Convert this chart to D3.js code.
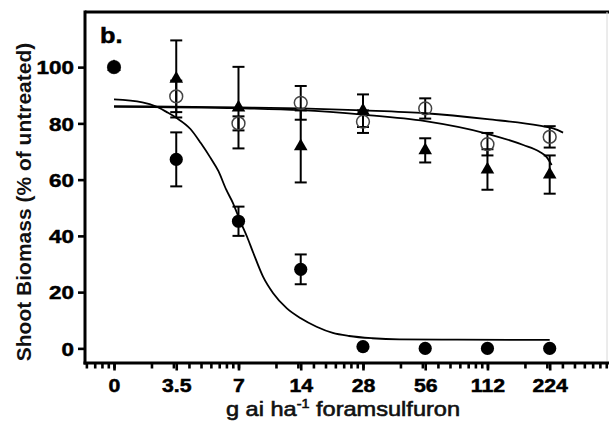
<!DOCTYPE html>
<html>
<head>
<meta charset="utf-8">
<script src="https://cdn.jsdelivr.net/npm/d3@7/dist/d3.min.js"></script>
<style>
  html, body { margin: 0; padding: 0; background: #fff; }
  svg { display: block; }
</style>
</head>
<body>
<div id="chart"></div>
<script>
// dose categories and tick labels
const doses = [0, 3.5, 7, 14, 28, 56, 112, 224];
const doseLabels = ["0", "3.5", "7", "14", "28", "56", "112", "224"];
const yTicks = [0, 20, 40, 60, 80, 100];

// filled circles
const filledMean = [100, 67.2, 45.2, 28.1, 0.6, 0, 0, 0];
const filledErr = [1, 9.6, 5.2, 5.3, 0, 0, 0, 0];
// open circles
const openMean = [100, 89.6, 80, 87.3, 80.6, 85.3, 72.6, 75.2];
const openErr = [1, 5.6, 2.5, 6, 4, 3.6, 4, 3.8];
// triangles
const triMean = [100, 95.8, 85.6, 71.8, 84.5, 70.4, 63.6, 61.8];
const triErr = [1, 13.7, 14.5, 12.8, 5.8, 4.3, 7.2, 6.8];

// fitted curves (dose, % of untreated)
const filledFitDose = [1.75, 2.4, 2.8, 3.15, 3.5, 4.1, 4.6, 5.1, 5.6, 6.1, 6.6, 7.1, 7.7, 8.25, 9.2, 10.3, 12, 14, 16.7, 20, 24, 31, 42, 80, 224];
const filledFitVal = [88.5, 87.5, 86, 84, 82, 78, 73, 68, 63, 56.5, 51.5, 45.6, 39.7, 34, 25.5, 19.6, 14.2, 10.7, 7.7, 5.5, 4.4, 3.6, 3.2, 3.1, 3.0];
const openFitDose = [1.75, 7, 14, 28, 56, 112, 200, 233, 260];
const openFitVal = [86.1, 85.7, 85.3, 84.6, 83.6, 81.5, 79.2, 78.2, 76.7];
const triFitDose = [1.75, 7, 14, 28, 56, 112, 167, 200, 216, 229];
const triFitVal = [85.9, 85.4, 84.7, 83.1, 80.8, 76.3, 72.3, 69.9, 68.1, 65.2];

const svgWidth = 610, svgHeight = 432;
const margin = { top: 12, right: 3, bottom: 69, left: 85 };
const width = svgWidth - margin.left - margin.right;
const height = svgHeight - margin.top - margin.bottom;
const stretch = 1.15; // the original lettering is drawn wide
const font = "'Liberation Sans', Arial, sans-serif";

// the axis is a log10 scale where one decade spans two dose doublings, 0 sits at 1.75
const zeroDose = 1.75;
const toU = d => Math.pow(10, Math.log2((d === 0 ? zeroDose : d) / zeroDose) / 2);

const svg = d3.select("#chart").append("svg")
    .attr("width", svgWidth)
    .attr("height", svgHeight);
svg.append("rect").attr("width", svgWidth).attr("height", svgHeight).attr("fill", "#fff");

const g = svg.append("g")
    .attr("transform", "translate(" + margin.left + "," + margin.top + ")");

const x = d3.scaleLog().domain([toU(1.267), toU(424)]).range([0, width]);
const y = d3.scaleLinear().domain([-5.2, 119.6]).range([height, 0]);
const px = d => x(toU(d));

// frame: top black, right faint
g.append("line").attr("x1", 0).attr("x2", width + 2).attr("y1", 0).attr("y2", 0)
    .attr("stroke", "#000").attr("stroke-width", 3);
g.append("line").attr("x1", width).attr("x2", width).attr("y1", 0).attr("y2", height)
    .attr("stroke", "#d8d8d8").attr("stroke-width", 1);

// minor x ticks
const minor = g.append("g")
    .attr("transform", "translate(0," + height + ")")
    .call(d3.axisBottom(x).tickValues(x.ticks()).tickSize(5.5).tickFormat(""));
minor.select(".domain").remove();
minor.selectAll("line").attr("stroke", "#000").attr("stroke-width", 2.6);

// major x ticks + labels
const xAxis = g.append("g")
    .attr("transform", "translate(0," + height + ")")
    .call(d3.axisBottom(x)
        .tickValues(doses.map(toU))
        .tickSize(7.5)
        .tickFormat((d, i) => doseLabels[i]));
xAxis.select(".domain").attr("stroke", "#000").attr("stroke-width", 3)
    .attr("d", "M-1.5,0H" + (width + 2));
xAxis.selectAll(".tick line").attr("stroke", "#000").attr("stroke-width", 2.6);
xAxis.selectAll(".tick text")
    .attr("y", 29.5).attr("dy", 0)
    .attr("transform", "scale(" + stretch + ",1)")
    .style("font-family", font)
    .style("font-weight", "bold")
    .style("font-size", "18.5px")
    .attr("fill", "#000")
    .attr("stroke", "#000")
    .attr("stroke-width", 0.5);

// y axis
const yAxis = g.append("g")
    .call(d3.axisLeft(y).tickValues(yTicks).tickSize(7).tickFormat(d3.format("d")));
yAxis.select(".domain").attr("stroke", "#000").attr("stroke-width", 3)
    .attr("d", "M0,-1.5V" + (height + 1.5));
yAxis.selectAll(".tick line").attr("stroke", "#000").attr("stroke-width", 2.6);
yAxis.selectAll(".tick text")
    .attr("x", 0).attr("dy", "0.36em")
    .attr("transform", "translate(-11,0) scale(1.18,1)")
    .style("font-family", font)
    .style("font-weight", "bold")
    .style("font-size", "19px")
    .attr("fill", "#000")
    .attr("stroke", "#000")
    .attr("stroke-width", 0.5);

// fitted curves
const line = d3.line()
    .x(d => px(d[0]))
    .y(d => y(d[1]))
    .curve(d3.curveMonotoneX);
const fits = [
    d3.zip(filledFitDose, filledFitVal),
    d3.zip(openFitDose, openFitVal),
    d3.zip(triFitDose, triFitVal)
];
g.selectAll(".fit").data(fits).enter().append("path")
    .attr("class", "fit")
    .attr("d", line)
    .attr("fill", "none")
    .attr("stroke", "#000")
    .attr("stroke-width", 1.8);

// error bars
const capW = 6;
function errorBars(mean, err) {
    const data = doses.map((d, i) => ({ d: d, m: mean[i], e: err[i] })).filter(p => p.e > 0);
    const eb = g.append("g").attr("stroke", "#000").attr("stroke-width", 2);
    eb.selectAll(".v").data(data).enter().append("line")
        .attr("x1", p => px(p.d)).attr("x2", p => px(p.d))
        .attr("y1", p => y(p.m - p.e)).attr("y2", p => y(p.m + p.e));
    eb.selectAll(".hi").data(data).enter().append("line")
        .attr("x1", p => px(p.d) - capW).attr("x2", p => px(p.d) + capW)
        .attr("y1", p => y(p.m + p.e)).attr("y2", p => y(p.m + p.e));
    eb.selectAll(".lo").data(data).enter().append("line")
        .attr("x1", p => px(p.d) - capW).attr("x2", p => px(p.d) + capW)
        .attr("y1", p => y(p.m - p.e)).attr("y2", p => y(p.m - p.e));
}
errorBars(triMean, triErr);
errorBars(openMean, openErr);
errorBars(filledMean, filledErr);

// markers
g.selectAll(".open").data(doses).enter().append("circle")
    .attr("cx", d => px(d))
    .attr("cy", (d, i) => y(openMean[i]))
    .attr("r", 6.4)
    .attr("fill", "none")
    .attr("stroke", "#444")
    .attr("stroke-width", 1.5);
g.selectAll(".tri").data(doses).enter().append("path")
    .attr("transform", (d, i) => "translate(" + px(d) + "," + y(triMean[i]) + ")")
    .attr("d", d3.symbol(d3.symbolTriangle, 80))
    .attr("fill", "#000");
g.selectAll(".filled").data(doses).enter().append("circle")
    .attr("cx", d => px(d))
    .attr("cy", (d, i) => y(filledMean[i]))
    .attr("r", 6.6)
    .attr("fill", "#000");

// panel letter
svg.append("text")
    .attr("transform", "translate(100,43) scale(" + stretch + ",1)")
    .style("font-family", font)
    .style("font-weight", "bold")
    .style("font-size", "22px")
    .attr("stroke", "#000")
    .attr("stroke-width", 0.5)
    .text("b.");

// axis titles
svg.append("text")
    .attr("transform", "translate(30.5,202) rotate(-90)")
    .attr("text-anchor", "middle")
    .style("font-family", font)
    .style("font-weight", "bold")
    .style("font-size", "21px")
    .attr("fill", "#111")
    .text("Shoot Biomass (% of untreated)");

const xt = svg.append("text")
    .attr("transform", "translate(343,416) scale(" + stretch + ",1)")
    .attr("text-anchor", "middle")
    .style("font-family", font)
    .style("font-size", "20.5px")
    .attr("fill", "#111")
    .attr("stroke", "#111")
    .attr("stroke-width", 0.6);
xt.append("tspan").text("g ai ha");
xt.append("tspan").attr("dy", -8).style("font-size", "12.5px").text("-1");
xt.append("tspan").attr("dy", 8).text(" foramsulfuron");
</script>
</body>
</html>
